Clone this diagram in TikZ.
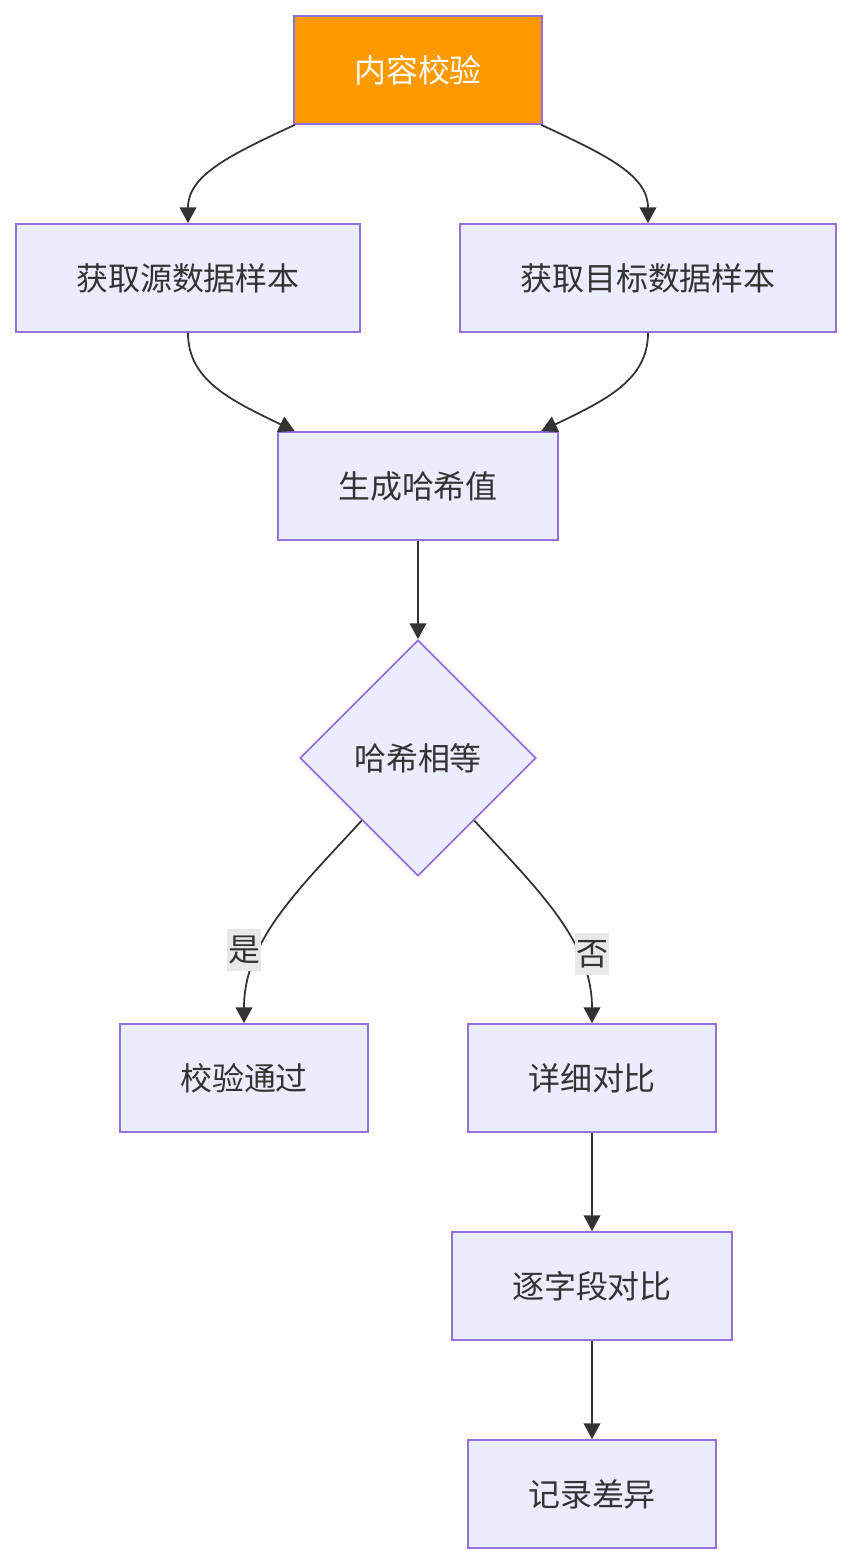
\documentclass[tikz,border=0pt]{standalone}
\usepackage{fontspec}
\setmainfont{Noto Sans CJK SC}
\usetikzlibrary{arrows.meta,shapes.geometric}

\definecolor{boxfill}{HTML}{ECECFF}
\definecolor{boxline}{HTML}{9370DB}
\definecolor{startfill}{HTML}{FF9900}
\definecolor{edgeline}{HTML}{333333}
\definecolor{labelfill}{HTML}{E8E8E8}

\tikzset{
  procbox/.style={draw=boxline, fill=boxfill, line width=1pt, text=edgeline,
    minimum height=108*0.02cm, inner sep=0pt, font=\fontsize{18.2}{21}\selectfont},
  startbox/.style={procbox, fill=startfill, text=white},
  decision/.style={diamond, aspect=1, draw=boxline, fill=boxfill, line width=1pt,
    text=edgeline, minimum size=236*0.02cm, inner sep=0pt, font=\fontsize{18.2}{21}\selectfont},
  flow/.style={draw=edgeline, line width=1pt, -{Triangle[length=9pt,width=9.5pt]}},
  edgetag/.style={fill=labelfill, text=edgeline, inner xsep=0.5pt, inner ysep=4pt,
    font=\fontsize{18.2}{21}\selectfont}
}

\begin{document}
\begin{tikzpicture}[x=0.02cm, y=-0.02cm]
  \useasboundingbox (0,0) rectangle (852,1564);

  % nodes
  \node[startbox, minimum width=248*0.02cm] (check) at (418,70) {内容校验};
  \node[procbox, minimum width=344*0.02cm] (src) at (188,278) {获取源数据样本};
  \node[procbox, minimum width=376*0.02cm] (tgt) at (648,278) {获取目标数据样本};
  \node[procbox, minimum width=280*0.02cm] (hash) at (418,486) {生成哈希值};
  \node[decision] (equal) at (418,758) {哈希相等};
  \node[procbox, minimum width=248*0.02cm] (pass) at (244,1078) {校验通过};
  \node[procbox, minimum width=248*0.02cm] (detail) at (592,1078) {详细对比};
  \node[procbox, minimum width=280*0.02cm] (field) at (592,1286) {逐字段对比};
  \node[procbox, minimum width=248*0.02cm] (record) at (592,1494) {记录差异};

  % connectors
  \draw[flow] (check.204) .. controls (230,155) and (188,175) .. (src.north);
  \draw[flow] (check.-24) .. controls (606,155) and (648,175) .. (tgt.north);
  \draw[flow] (src.south) .. controls (188,380) and (230,400) .. (hash.156);
  \draw[flow] (tgt.south) .. controls (648,380) and (606,400) .. (hash.24);
  \draw[flow] (hash.south) -- (equal.north);
  \draw[flow] (equal.228) .. controls (300,888) and (244,940) .. (pass.north);
  \draw[flow] (equal.312) .. controls (536,888) and (592,940) .. (detail.north);
  \draw[flow] (detail.south) -- (field.north);
  \draw[flow] (field.south) -- (record.north);

  % edge labels
  \node[edgetag] (yes) at (244,950) {是};
  \node[edgetag] (no) at (592,954) {否};
\end{tikzpicture}
\end{document}
